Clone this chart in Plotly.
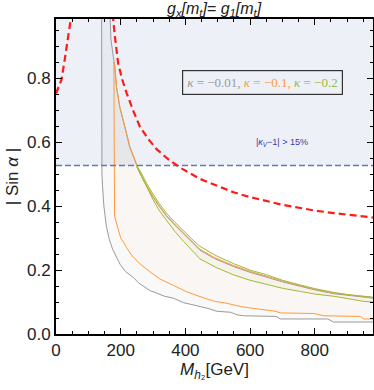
import plotly.graph_objects as go

# axis ranges
x_max = 980
y_max = 0.985
sin_threshold = 0.527   # |kappa_V - 1| > 15%

# red dashed curves
red_left_x = [0, 3, 10, 17, 27, 37, 45, 48]
red_left_y = [0.752, 0.759, 0.775, 0.795, 0.858, 0.93, 0.985, 1.0]

red_right_x = [174, 177, 182, 192, 205, 218, 240, 259, 285, 311, 345, 384, 445, 500, 549, 600,
               652, 700, 756, 800, 859, 910, 963, 980]
red_right_y = [1.0, 0.983, 0.931, 0.847, 0.795, 0.754, 0.695, 0.649, 0.61, 0.578, 0.548, 0.52,
               0.485, 0.462, 0.443, 0.428, 0.415, 0.404, 0.394, 0.386, 0.378, 0.372, 0.366, 0.364]

# kappa = -0.01 (grey)
grey_low_x = [141, 141, 142, 144, 148, 156, 165, 175, 187, 198, 215, 239, 255, 270, 290, 311, 335,
              363, 394, 420, 445, 470, 497, 539, 560, 580, 680, 694, 840, 858, 980]
grey_low_y = [1.02, 0.54, 0.50, 0.46, 0.40, 0.335, 0.295, 0.265, 0.24, 0.218, 0.195, 0.177, 0.16,
              0.149, 0.136, 0.128, 0.118, 0.112, 0.098, 0.092, 0.086, 0.08, 0.071, 0.068, 0.06,
              0.057, 0.055, 0.047, 0.047, 0.0375, 0.0375]
grey_up_x = [166, 167, 170, 177, 182, 187, 197, 213, 228, 244, 259, 280, 300, 320, 342, 368, 394,
             420, 445, 490, 549, 600, 652, 700, 756, 800, 859, 910, 963, 980]
grey_up_y = [1.02, 0.983, 0.92, 0.868, 0.834, 0.771, 0.709, 0.646, 0.584, 0.542, 0.503, 0.463,
             0.428, 0.398, 0.368, 0.34, 0.313, 0.288, 0.262, 0.236, 0.211, 0.193, 0.177, 0.163,
             0.149, 0.138, 0.126, 0.119, 0.114, 0.112]

# kappa = -0.1 (orange)
orange_low_x = [179, 179, 181, 186, 192, 200, 210, 218, 235, 259, 290, 321, 363, 404, 445, 487,
                528, 570, 611, 673, 694, 797, 828, 941, 952, 980]
orange_low_y = [0.85, 0.40, 0.37, 0.35, 0.325, 0.30, 0.285, 0.27, 0.245, 0.22, 0.195, 0.172,
                0.152, 0.132, 0.117, 0.103, 0.096, 0.086, 0.08, 0.072, 0.066, 0.064, 0.057,
                0.055, 0.047, 0.047]
orange_up_x = [179, 182, 187, 197, 213, 228, 244, 259, 280, 300, 320, 342, 368, 394, 420, 445,
               490, 549, 600, 652, 700, 756, 800, 859, 910, 963, 980]
orange_up_y = [0.85, 0.837, 0.774, 0.712, 0.649, 0.587, 0.545, 0.505, 0.465, 0.43, 0.4, 0.37,
               0.342, 0.315, 0.29, 0.265, 0.239, 0.214, 0.196, 0.18, 0.166, 0.151, 0.14, 0.128,
               0.121, 0.116, 0.114]

# kappa = -0.2 (green)
green_up_x = [249, 259, 280, 300, 320, 342, 368, 394, 420, 445, 495, 549, 600, 652, 700, 756, 800,
              859, 910, 963, 980]
green_up_y = [0.524, 0.512, 0.472, 0.437, 0.407, 0.377, 0.349, 0.322, 0.297, 0.274, 0.245, 0.22,
              0.2, 0.185, 0.168, 0.153, 0.142, 0.13, 0.122, 0.117, 0.115]
green_low_x = [249, 259, 280, 300, 320, 342, 368, 394, 420, 445, 495, 549, 600, 652, 700, 756,
               800, 859, 910, 952, 980]
green_low_y = [0.524, 0.503, 0.46, 0.42, 0.385, 0.355, 0.32, 0.29, 0.262, 0.235, 0.208, 0.185,
               0.168, 0.155, 0.143, 0.133, 0.125, 0.118, 0.11, 0.102, 0.10]

x_ticks = [0, 200, 400, 600, 800]
y_ticks = [0.0, 0.2, 0.4, 0.6, 0.8]

GREY = "#9a9a9a"
ORANGE = "#ff9a3c"
GREEN = "#9dbb3a"

fig = go.Figure()


def band(xl, yl, xu, yu, fillcolor):
    # closed polygon: lower curve then upper curve reversed
    return go.Scatter(x=xl + xu[::-1], y=yl + yu[::-1], fill="toself", fillcolor=fillcolor,
                      mode="none", hoverinfo="skip", showlegend=False)


fig.add_trace(band(grey_low_x, grey_low_y, grey_up_x, grey_up_y, "rgba(120,120,120,0.045)"))
fig.add_trace(band(orange_low_x, orange_low_y, orange_up_x, orange_up_y, "rgba(255,170,90,0.035)"))
fig.add_trace(band(green_low_x, green_low_y, green_up_x, green_up_y, "rgba(170,180,80,0.06)"))

for xs, ys, col in [(grey_low_x, grey_low_y, GREY), (grey_up_x, grey_up_y, GREY),
                    (orange_low_x, orange_low_y, ORANGE), (orange_up_x, orange_up_y, ORANGE),
                    (green_low_x, green_low_y, GREEN), (green_up_x, green_up_y, GREEN)]:
    fig.add_trace(go.Scatter(x=xs, y=ys, mode="lines", line=dict(color=col, width=1),
                             showlegend=False))

# horizontal threshold line
fig.add_trace(go.Scatter(x=[0, x_max], y=[sin_threshold, sin_threshold], mode="lines",
                         line=dict(color="#5b7db5", width=1.6, dash="6px,3px"), showlegend=False))

for xs, ys in [(red_left_x, red_left_y), (red_right_x, red_right_y)]:
    fig.add_trace(go.Scatter(x=xs, y=ys, mode="lines",
                             line=dict(color="#ff1a1a", width=2.2, dash="7px,4px"),
                             showlegend=False))

# excluded region shading
fig.add_shape(type="rect", xref="x", yref="y", x0=0, x1=x_max, y0=sin_threshold, y1=1.2,
              fillcolor="#edf0f6", line_width=0, layer="below")

legend_text = (f"<span style='color:{GREY}'><i>κ</i> = −0.01, </span>"
               f"<span style='color:{ORANGE}'><i>κ</i> = −0.1, </span>"
               f"<span style='color:{GREEN}'><i>κ</i> = −0.2</span>")
fig.add_annotation(x=0.65, y=0.797, xref="paper", yref="paper", xanchor="center",
                   yanchor="middle", text=legend_text, showarrow=False,
                   bordercolor="#333333", borderwidth=1.2, borderpad=4,
                   font=dict(family="Liberation Serif", size=13))

fig.add_annotation(x=700, y=0.6, xref="x", yref="y", showarrow=False,
                   text="|<i>κ<sub>V</sub></i>−1| > 15%",
                   font=dict(family="Liberation Sans", size=9, color="#3040b0"))

fig.add_annotation(x=0.5, y=1.0, xref="paper", yref="paper", yanchor="bottom", yshift=-2,
                   showarrow=False,
                   text="<i>g<sub>x</sub>[m<sub>t</sub>]= g<sub>1</sub>[m<sub>t</sub>]</i>",
                   font=dict(family="Liberation Sans", size=16, color="#222222"))

axis_common = dict(showline=True, linecolor="black", linewidth=2, mirror="allticks",
                   ticks="inside", ticklen=6, tickwidth=1, tickcolor="black",
                   showgrid=False, zeroline=False, automargin=False,
                   tickfont=dict(family="Liberation Sans", size=17, color="#222222"))

fig.update_xaxes(range=[0, x_max], tickvals=x_ticks,
                 minor=dict(dtick=50, ticklen=3, tickwidth=1, tickcolor="black", ticks="inside"),
                 title=dict(text="<i>M</i><sub><i>h</i>₂</sub>[GeV]",
                            font=dict(family="Liberation Sans", size=17, color="#222222"),
                            standoff=2),
                 **axis_common)
fig.update_yaxes(range=[0, y_max], tickvals=y_ticks, tickformat=".1f",
                 minor=dict(dtick=0.05, ticklen=3, tickwidth=1, tickcolor="black", ticks="inside"),
                 title=dict(text="| Sin <i>α</i> |",
                            font=dict(family="Liberation Sans", size=17, color="#222222"),
                            standoff=4),
                 **axis_common)

fig.update_layout(width=374, height=390, margin=dict(l=56, r=1, t=19, b=56),
                  plot_bgcolor="white", paper_bgcolor="white", showlegend=False)

# drop the default 8px page margin so the figure fills the window exactly
fig.write_html("out.html", config={"displayModeBar": False},
               post_script="document.body.style.margin = '0px';")
